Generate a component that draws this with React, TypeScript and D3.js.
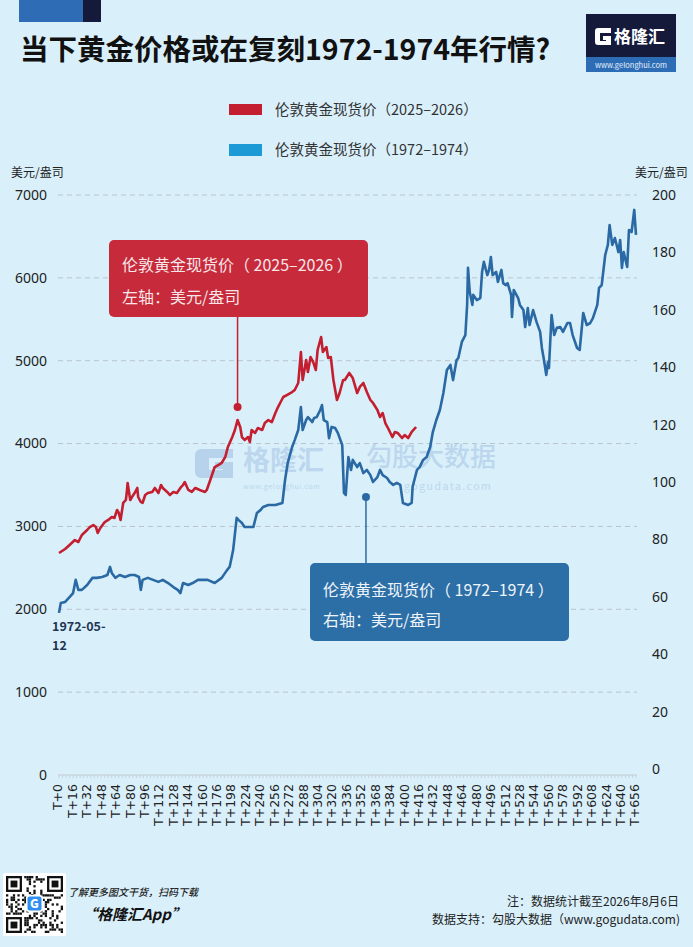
import * as d3 from 'd3';

// 伦敦黄金现货价 (2025-2026), left axis, [T, USD/oz]
const redSeries: [number, number][] = [
  [0, 2679], [7, 2728], [12, 2776], [18, 2836], [22, 2812], [26, 2897], [32, 2957], [35, 2993],
  [39, 3017], [42, 2993], [44, 2921], [47, 2981], [52, 3053], [56, 3078], [60, 3114], [63, 3102],
  [66, 3198], [68, 3162], [70, 3078], [73, 3283], [76, 3319], [77, 3403], [78, 3524], [81, 3319],
  [83, 3355], [86, 3403], [89, 3464], [90, 3355], [93, 3295], [95, 3283], [98, 3379], [101, 3403],
  [106, 3416], [109, 3464], [113, 3403], [116, 3500], [118, 3464], [123, 3416], [126, 3379], [130, 3416],
  [134, 3403], [138, 3464], [141, 3500], [143, 3536], [147, 3440], [151, 3416], [155, 3464], [160, 3440],
  [166, 3416], [168, 3440], [172, 3560], [177, 3717], [181, 3741], [185, 3766], [189, 3838], [192, 3959],
  [197, 4079], [200, 4164], [203, 4284], [206, 4200], [208, 4079], [211, 4043], [215, 4079], [217, 4019],
  [219, 4164], [223, 4128], [226, 4188], [231, 4164], [234, 4248], [238, 4284], [242, 4260], [246, 4369],
  [249, 4441], [252, 4502], [255, 4562], [259, 4586], [265, 4622], [268, 4647], [272, 4731], [275, 5105],
  [277, 4767], [281, 5009], [283, 4864], [286, 5045], [289, 4984], [292, 4888], [294, 5129], [298, 5286],
  [300, 5105], [304, 5165], [306, 5033], [309, 5045], [312, 4767], [316, 4526], [319, 4610], [323, 4767],
  [325, 4767], [330, 4852], [334, 4791], [339, 4610], [342, 4683], [346, 4731], [350, 4622], [354, 4526],
  [357, 4490], [362, 4405], [365, 4321], [368, 4369], [371, 4248], [374, 4188], [379, 4079], [382, 4140],
  [385, 4128], [390, 4067], [393, 4103], [397, 4067], [401, 4140], [406, 4200],
];

// 伦敦黄金现货价 (1972-1974), right axis, [T, USD/oz]
const blueSeries: [number, number][] = [
  [0, 54.4], [2, 57.8], [7, 58.2], [12, 59.9], [16, 61.3], [19, 65.9], [22, 62.4], [26, 62.4],
  [32, 64.1], [38, 66.6], [43, 66.6], [49, 66.9], [55, 67.6], [58, 70.4], [60, 68.3], [64, 66.6],
  [69, 67.6], [75, 66.9], [81, 67.6], [86, 67.6], [91, 66.9], [93, 62.4], [95, 65.9], [101, 66.6],
  [107, 65.9], [113, 65.2], [118, 65.9], [124, 64.8], [130, 63.4], [135, 62.4], [138, 61.3], [141, 64.8],
  [147, 64.1], [152, 64.8], [158, 65.9], [164, 65.9], [169, 65.9], [177, 64.8], [185, 66.6], [191, 69.3],
  [194, 70.4], [198, 76.3], [202, 87.5], [204, 86.8], [208, 85.7], [211, 84.3], [215, 84.3], [221, 84.3],
  [225, 89.2], [229, 90.2], [232, 91.3], [238, 92.0], [246, 92.0], [254, 92.7], [257, 100.7], [260, 106.6],
  [265, 112.2], [268, 114.6], [272, 118.1], [275, 126.1], [277, 118.1], [281, 121.6], [283, 122.6], [288, 120.9],
  [290, 122.3], [293, 122.6], [297, 125.1], [299, 126.8], [301, 121.6], [305, 120.9], [307, 115.3], [310, 119.2],
  [314, 118.8], [317, 117.1], [322, 112.9], [324, 96.2], [326, 95.5], [329, 108.7], [332, 104.2], [334, 107.7],
  [339, 105.2], [342, 106.6], [346, 103.1], [350, 104.2], [354, 102.4], [357, 100.0], [362, 101.7], [365, 104.2],
  [368, 102.4], [373, 101.4], [376, 100.0], [380, 99.0], [384, 99.7], [388, 99.0], [390, 94.8], [391, 92.7],
  [397, 92.0], [401, 92.7], [402, 98.3], [407, 104.2], [410, 105.2], [414, 107.7], [418, 108.7], [422, 112.2],
  [425, 117.4], [429, 121.6], [433, 125.1], [437, 131.0], [441, 139.0], [445, 140.8], [448, 135.5], [452, 142.5],
  [454, 143.2], [458, 148.8], [462, 151.2], [464, 161.7], [465, 174.6], [467, 166.2], [470, 161.7], [471, 165.2],
  [475, 163.4], [479, 164.1], [481, 173.2], [483, 176.7], [487, 172.1], [489, 173.9], [491, 178.4], [493, 172.1],
  [497, 173.2], [499, 169.7], [503, 173.9], [505, 169.3], [508, 168.6], [510, 169.3], [514, 165.2], [515, 157.5],
  [517, 166.9], [522, 164.1], [524, 161.7], [528, 159.9], [530, 154.0], [533, 160.6], [535, 154.7], [539, 159.9],
  [543, 155.7], [547, 152.3], [549, 146.7], [551, 143.2], [554, 137.3], [556, 141.8], [557, 139.7], [560, 158.2],
  [563, 151.2], [566, 153.7], [570, 154.0], [573, 152.3], [578, 155.4], [581, 155.4], [584, 151.2], [589, 146.7],
  [592, 146.0], [596, 158.9], [600, 154.7], [604, 155.4], [607, 157.1], [612, 161.7], [614, 167.6], [617, 168.6],
  [621, 179.1], [624, 182.6], [626, 189.5], [629, 182.6], [632, 185.0], [636, 180.1], [638, 184.3], [640, 174.6],
  [642, 180.1], [646, 174.9], [648, 187.8], [651, 187.1], [654, 194.8], [656, 186.1],
];

const xLabels = [
  'T+0', 'T+16', 'T+32', 'T+48', 'T+64', 'T+80', 'T+96', 'T+112', 'T+128', 'T+144', 'T+160',
  'T+176', 'T+198', 'T+224', 'T+240', 'T+256', 'T+272', 'T+288', 'T+304', 'T+320', 'T+336',
  'T+352', 'T+368', 'T+384', 'T+400', 'T+416', 'T+432', 'T+448', 'T+464', 'T+480', 'T+496',
  'T+512', 'T+528', 'T+544', 'T+560', 'T+578', 'T+592', 'T+608', 'T+624', 'T+640', 'T+656',
];
const leftTicks = [0, 1000, 2000, 3000, 4000, 5000, 6000, 7000];
const rightTicks = [0, 20, 40, 60, 80, 100, 120, 140, 160, 180, 200];

const redName = '伦敦黄金现货价（2025–2026）';
const blueName = '伦敦黄金现货价（1972–1974）';

const BG = '#d9f0fb';
const RED = '#c41f30';
const BLUE = '#2a69a4';
const FONT = '"Noto Sans CJK SC", "Noto Sans", sans-serif';

// points marked by the callouts
const redMarkT = 203;
const redMarkV = 4440;
const blueMarkT = 349;
const blueMarkV = 94.8;

// a fixed-looking QR pattern
function qrCells(n: number) {
  const seed = '格隆汇App www.gelonghui.com 了解更多图文干货扫码下载';
  const cells: [number, number][] = [];
  for (let r = 0; r < n; r++) {
    for (let c = 0; c < n; c++) {
      const inFinder = (r < 8 && c < 8) || (r < 8 && c >= n - 8) || (r >= n - 8 && c < 8);
      if (inFinder) continue;
      const code = seed.charCodeAt((r * 7 + c * 13) % seed.length);
      if (((code * (r + 3) + c * 31 + r * c) % 5) < 2) cells.push([r, c]);
    }
  }
  return cells;
}

export default function App() {
  const W = 693;
  const H = 947;

  const x = d3.scaleLinear().domain([0, 656]).range([59, 636]);
  const xCat = d3.scalePoint<string>().domain(xLabels).range([58, 635]);
  const yL = d3.scaleLinear().domain([0, 7000]).range([775, 195]);
  const yR = d3.scaleLinear().domain([0, 200]).range([769, 195]);

  const redLine = d3.line<[number, number]>().x(d => x(d[0])).y(d => yL(d[1]));
  const blueLine = d3.line<[number, number]>().x(d => x(d[0])).y(d => yR(d[1]));

  const qrN = 25;
  const qrX = 6;
  const qrY = 876;
  const qrS = 57 / qrN;
  const finders = [[0, 0], [0, qrN - 7], [qrN - 7, 0]];

  return (
    <svg width={W} height={H} style={{ position: 'absolute', left: 0, top: 0, display: 'block' }}
      fontFamily={FONT}>
      <rect x={0} y={0} width={W} height={H} fill={BG} />

      {/* top-left accent */}
      <rect x={19} y={0} width={64} height={22} fill="#2e6cb6" />
      <rect x={83} y={0} width={18} height={22} fill="#151a3a" />

      {/* title */}
      <text x={20} y={60} fontSize={28.5} fontWeight={700} fill="#111">当下黄金价格或在复刻1972-1974年行情?</text>

      {/* logo */}
      <rect x={586} y={14} width={90} height={44} fill="#151a3b" />
      <rect x={586} y={57} width={90} height={15} fill="#2d6db5" />
      <path d="M611,28 h-13 a3,3 0 0 0 -3,3 v11 a3,3 0 0 0 3,3 h13 v-9 h-8 v4 h3 v1 h-6 v-8 h11 z" fill="#fff" />
      <text x={614} y={43} fontSize={17} fontWeight={700} fill="#fff">格隆汇</text>
      <text x={631} y={68} fontSize={7.5} fill="#e8f0fa" textAnchor="middle">www.gelonghui.com</text>

      {/* legend */}
      <rect x={229} y={104} width={33} height={11} fill={RED} />
      <text x={275} y={115} fontSize={14.5} fill="#333">{redName}</text>
      <rect x={229} y={144} width={33} height={12} fill="#1b9ad6" />
      <text x={275} y={155} fontSize={14.5} fill="#333">{blueName}</text>

      {/* axis units */}
      <text x={11} y={177} fontSize={12} fill="#222">美元/盎司</text>
      <text x={635} y={177} fontSize={12} fill="#222">美元/盎司</text>

      {/* watermarks */}
      <g opacity={0.55}>
        <path d="M233,449 h-32 a6,6 0 0 0 -6,6 v17 a6,6 0 0 0 6,6 h32 v-16 h-18 v7 h8 v1 h-14 v-12 h24 z" fill="#9cbde0" />
        <text x={243} y={470} fontSize={27} fontWeight={700} fill="#a5c3e3">格隆汇</text>
        <text x={243} y={489} fontSize={7} fill="#a5c3e3" letterSpacing={0.6}>www.gelonghui.com</text>
        <text x={366} y={466} fontSize={26} fontWeight={500} fill="#a5c3e3">勾股大数据</text>
        <text x={404} y={490} fontSize={10.5} fill="#a5c3e3" letterSpacing={1.5}>gogudata.com</text>
      </g>

      {/* gridlines */}
      {leftTicks.filter(t => t > 0).map(t => (
        <line key={t} x1={58} x2={637} y1={yL(t)} y2={yL(t)} stroke="#b9c4cc" strokeWidth={1} strokeDasharray="5,4" />
      ))}
      <line x1={58} x2={637} y1={yL(0)} y2={yL(0)} stroke="#c3cbd2" strokeWidth={1} />
      {d3.range(0, 657, 4).map(t => (
        <line key={t} x1={x(t)} x2={x(t)} y1={yL(0)} y2={yL(0) + 3} stroke="#c3cbd2" strokeWidth={0.8} />
      ))}

      {/* left axis labels */}
      {leftTicks.map(t => (
        <text key={t} x={47} y={yL(t)} dy="0.35em" fontSize={14} fill="#222" textAnchor="end"
          fontFamily='"Noto Sans", sans-serif'>{t}</text>
      ))}
      {/* right axis labels */}
      {rightTicks.map(t => (
        <text key={t} x={652} y={yR(t)} dy="0.35em" fontSize={14} fill="#222"
          fontFamily='"Noto Sans", sans-serif'>{t}</text>
      ))}

      {/* x labels */}
      {xLabels.map(l => (
        <text key={l} transform={`translate(${xCat(l)},784) rotate(-90)`} fontSize={12.5} fill="#222"
          textAnchor="end" dy="0.35em" fontFamily='"DejaVu Sans", sans-serif'>{l}</text>
      ))}

      {/* series */}
      <path d={blueLine(blueSeries) || ''} fill="none" stroke={BLUE} strokeWidth={2.6} strokeLinejoin="round" />
      <path d={redLine(redSeries) || ''} fill="none" stroke={RED} strokeWidth={2.6} strokeLinejoin="round" />

      {/* start date */}
      <text x={52} y={631} fontSize={12.5} fontWeight={700} fill="#1f3554">1972-05-</text>
      <text x={52} y={650} fontSize={12.5} fontWeight={700} fill="#1f3554">12</text>

      {/* red callout */}
      <line x1={x(redMarkT)} x2={x(redMarkT)} y1={317} y2={yL(redMarkV)} stroke={RED} strokeWidth={1.5} />
      <circle cx={x(redMarkT)} cy={yL(redMarkV)} r={4} fill={RED} />
      <rect x={109} y={240} width={259} height={77} rx={5} fill="#c62a3b" />
      <text x={122} y={271} fontSize={16} fill="#f6e6e8">伦敦黄金现货价（ 2025–2026 ）</text>
      <text x={122} y={303} fontSize={16} fill="#f6e6e8">左轴：美元/盎司</text>

      {/* blue callout */}
      <line x1={x(blueMarkT)} x2={x(blueMarkT)} y1={yR(blueMarkV)} y2={563} stroke={BLUE} strokeWidth={1.5} />
      <circle cx={x(blueMarkT)} cy={yR(blueMarkV)} r={4} fill={BLUE} />
      <rect x={310} y={563} width={259} height={78} rx={5} fill="#2c6ea6" />
      <text x={323} y={596} fontSize={16} fill="#eef4fa">伦敦黄金现货价（ 1972–1974 ）</text>
      <text x={323} y={626} fontSize={16} fill="#eef4fa">右轴：美元/盎司</text>

      {/* QR */}
      <rect x={3} y={873} width={63} height={63} fill="#fff" rx={2} />
      {qrCells(qrN).map(([r, c]) => (
        <rect key={`${r}-${c}`} x={qrX + c * qrS} y={qrY + r * qrS} width={qrS} height={qrS} fill="#111" />
      ))}
      {finders.map(([r, c]) => (
        <g key={`f${r}-${c}`}>
          <rect x={qrX + c * qrS} y={qrY + r * qrS} width={7 * qrS} height={7 * qrS} fill="#111" />
          <rect x={qrX + (c + 1) * qrS} y={qrY + (r + 1) * qrS} width={5 * qrS} height={5 * qrS} fill="#fff" />
          <rect x={qrX + (c + 2) * qrS} y={qrY + (r + 2) * qrS} width={3 * qrS} height={3 * qrS} fill="#111" />
        </g>
      ))}
      <rect x={26} y={895} width={17} height={17} rx={3} fill="#fff" />
      <rect x={27.5} y={896.5} width={14} height={14} rx={2} fill="#2f8ff0" />
      <text x={34.5} y={908} fontSize={12} fontWeight={900} fill="#fff" textAnchor="middle">G</text>

      {/* footer */}
      <text x={68} y={896} fontSize={10} fontStyle="italic" fontWeight={500} fill="#222">了解更多图文干货，扫码下载</text>
      <text x={82} y={920} fontSize={15} fontStyle="italic" fontWeight={700} fill="#111">“格隆汇App”</text>
      <text x={679} y={906} fontSize={12} fill="#222" textAnchor="end">注：数据统计截至2026年8月6日</text>
      <text x={680} y={924} fontSize={12} fill="#222" textAnchor="end">数据支持：勾股大数据（www.gogudata.com)</text>
    </svg>
  );
}
